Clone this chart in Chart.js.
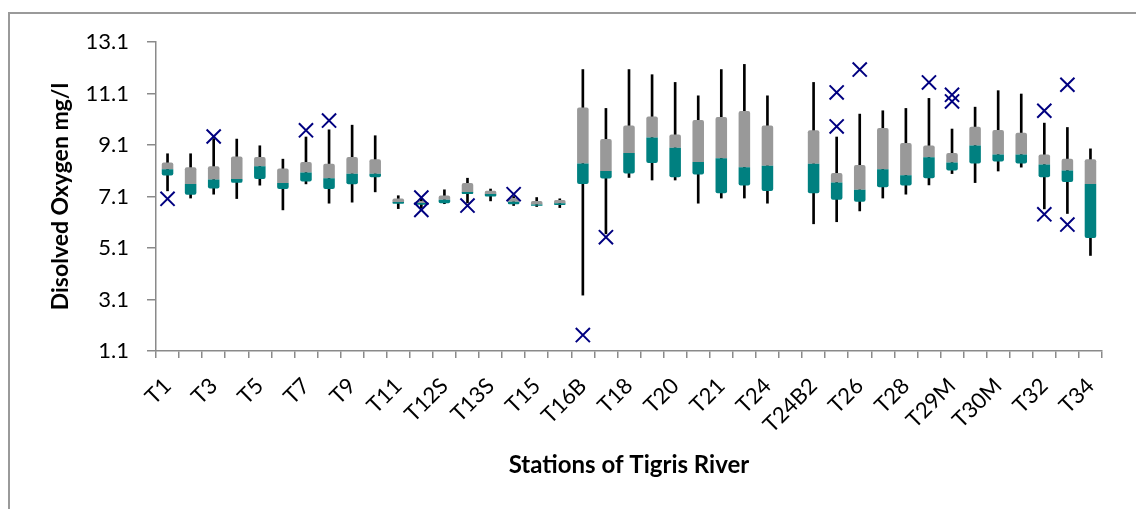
<!DOCTYPE html>
<html>
<head>
<meta charset="utf-8">
<script src="https://cdn.jsdelivr.net/npm/chart.js@4.4.1/dist/chart.umd.min.js"></script>
<style>
  html, body { margin: 0; padding: 0; background: #fff; overflow: hidden; }
  canvas { position: absolute; left: 0; top: 0; }
  #frame { position: absolute; left: 8px; top: 12px; width: 1200px; height: 600px; border: 2px solid #9a9a9a; }
</style>
</head>
<body>
<canvas id="chart" width="1136" height="509"></canvas>
<div id="frame"></div>
<script>
// stations along the river (only every other one gets a label on the axis)
const stations = ["T1", "T2", "T3", "T4", "T5", "T6", "T7", "T8", "T9", "T10",
  "T11", "T12", "T12S", "T13", "T13S", "T14", "T15", "T16", "T16B", "T17",
  "T18", "T19", "T20", "T20M", "T21", "T23", "T24", "T24B1", "T24B2", "T25",
  "T26", "T27", "T28", "T29", "T29M", "T30", "T30M", "T31", "T32", "T33", "T34"];

// box plot values, mg/l (null = no data)
const whiskerLow = [7.32, 7.04, 7.19, 7.02, 7.54, 6.58, 7.59, 6.84, 6.88, 7.28,
  6.63, 6.65, 6.82, 6.85, 6.93, 6.75, 6.71, 6.67, 3.27, 5.65,
  7.84, 7.74, 7.74, 6.84, 7.04, 7.04, 6.84, null, 6.04, 6.12,
  6.54, 7.04, 7.19, 7.55, 7.99, 7.64, 8.09, 8.24, 6.62, 6.44, 4.81];
const q1 = [7.92, 7.17, 7.41, 7.63, 7.78, 7.39, 7.68, 7.39, 7.58, 7.85,
  6.82, 6.78, 6.84, 7.20, 7.10, 6.80, 6.74, 6.77, 7.59, 7.80,
  7.99, 8.40, 7.85, 7.95, 7.23, 7.53, 7.31, null, 7.23, 6.97,
  6.90, 7.46, 7.53, 7.81, 8.11, 8.38, 8.46, 8.38, 7.85, 7.66, 5.49];
const median = [8.16, 7.59, 7.76, 7.78, 8.27, 7.62, 8.03, 7.81, 7.98, 7.98,
  6.89, 6.85, 6.97, 7.27, 7.20, 6.90, 6.79, 6.84, 8.38, 8.09,
  8.79, 9.39, 8.99, 8.44, 8.59, 8.24, 8.29, null, 8.37, 7.64,
  7.36, 8.16, 7.93, 8.62, 8.42, 9.08, 8.73, 8.73, 8.34, 8.11, 7.59];
const q3 = [8.42, 8.24, 8.27, 8.65, 8.63, 8.19, 8.44, 8.37, 8.63, 8.55,
  7.02, 6.93, 7.14, 7.62, 7.32, 7.04, 6.93, 6.96, 10.56, 9.33,
  9.86, 10.21, 9.51, 10.07, 10.19, 10.42, 9.86, null, 9.67, 8.01,
  8.32, 9.76, 9.18, 9.08, 8.79, 9.81, 9.68, 9.58, 8.73, 8.57, 8.55];
const whiskerHigh = [8.76, 8.76, 9.35, 9.33, 9.07, 8.55, 9.41, 9.69, 9.87, 9.46,
  7.13, 7.00, 7.36, 7.81, 7.39, 7.10, 7.06, 7.01, 12.03, 10.52,
  12.03, 11.83, 11.53, 11.01, 12.03, 12.23, 11.01, null, 11.53, 9.41,
  10.30, 10.43, 10.52, 10.91, 9.72, 10.57, 11.21, 11.08, 9.95, 9.78, 8.95];

// outliers
const outlierStation = ["T1", "T3", "T7", "T8", "T12", "T12", "T13", "T14", "T16B", "T17",
  "T25", "T25", "T26", "T29", "T29M", "T29M", "T32", "T32", "T33", "T33"];
const outlierValue = [7.01, 9.43, 9.67, 10.05, 7.06, 6.58, 6.75, 7.19, 1.72, 5.52,
  11.14, 9.82, 12.03, 11.53, 11.05, 10.79, 10.43, 6.41, 11.44, 6.01];

const yTicks = [1.1, 3.1, 5.1, 7.1, 9.1, 11.1, 13.1];

const fontFamily = "Lato, 'Open Sans', sans-serif";
const axisColor = "#8a8a8a";

const pair = (a, b) => a.map((v, i) => (v == null ? null : [v, b[i]]));

const ctx = document.getElementById("chart").getContext("2d");
new Chart(ctx, {
  type: "bar",
  data: {
    labels: stations,
    datasets: [
      {
        label: "outliers",
        type: "line",
        data: outlierStation.map((s, i) => ({ x: s, y: outlierValue[i] })),
        showLine: false,
        pointStyle: "crossRot",
        pointRadius: 10,
        pointBorderColor: "#000080",
        pointBorderWidth: 2,
        order: 0,
      },
      {
        label: "Q1-median",
        data: pair(q1, median),
        backgroundColor: "#008080",
        grouped: false,
        barPercentage: 1,
        categoryPercentage: 0.5,
        borderSkipped: false,
        borderRadius: { bottomLeft: 2, bottomRight: 2, topLeft: 0, topRight: 0 },
        order: 1,
      },
      {
        label: "median-Q3",
        data: pair(median, q3),
        backgroundColor: "#999999",
        grouped: false,
        barPercentage: 1,
        categoryPercentage: 0.5,
        borderSkipped: false,
        borderRadius: { topLeft: 2, topRight: 2, bottomLeft: 0, bottomRight: 0 },
        order: 2,
      },
      {
        label: "whiskers",
        data: pair(whiskerLow, whiskerHigh),
        backgroundColor: "#000000",
        grouped: false,
        barThickness: 2,
        order: 3,
      },
    ],
  },
  options: {
    responsive: false,
    animation: false,
    layout: { padding: { left: 0, top: 42, right: 34, bottom: 0 } },
    plugins: {
      legend: { display: false },
      tooltip: { enabled: false },
    },
    scales: {
      x: {
        afterFit: (scale) => {
          scale.height = 158;
        },
        ticks: {
          autoSkip: false,
          maxRotation: 45,
          minRotation: 45,
          padding: 15,
          color: "#000",
          font: { family: fontFamily, size: 22 },
          callback: function (val, i) {
            return i % 2 === 0 ? this.getLabelForValue(val) : "";
          },
        },
        grid: { drawOnChartArea: false, tickLength: 7, color: axisColor, lineWidth: 1.5, offset: true },
        border: { color: axisColor, width: 1.5 },
        title: {
          display: true,
          text: "Stations of Tigris River",
          color: "#000",
          font: { family: fontFamily, size: 24, weight: "bold" },
          padding: { top: 0, bottom: 29 },
        },
      },
      y: {
        min: 1.1,
        max: 13.1,
        afterBuildTicks: (scale) => {
          scale.ticks = yTicks.map((v) => ({ value: v }));
        },
        afterFit: (scale) => {
          scale.width = 156;
        },
        ticks: {
          padding: 18,
          color: "#000",
          font: { family: fontFamily, size: 22 },
          callback: (v) => Number(v).toFixed(1),
        },
        grid: { drawOnChartArea: false, tickLength: 9, color: axisColor, lineWidth: 1.5 },
        border: { color: axisColor, width: 1.5 },
        title: {
          display: true,
          text: "Disolved Oxygen mg/l",
          color: "#000",
          font: { family: fontFamily, size: 23, weight: "bold" },
          padding: { top: 47, bottom: 0 },
        },
      },
    },
  },
});
</script>
</body>
</html>
